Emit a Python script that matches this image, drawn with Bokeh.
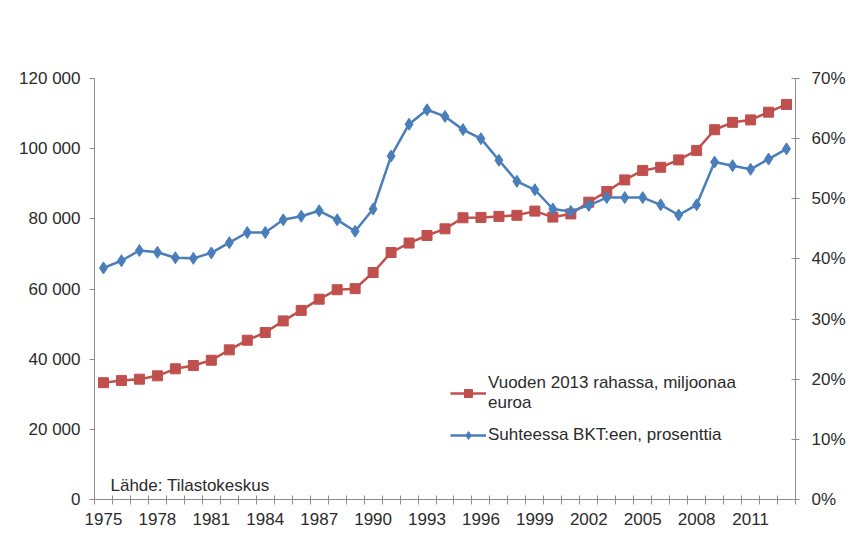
from bokeh.plotting import figure
from bokeh.models import (Range1d, LinearAxis, FixedTicker, CustomJSTickFormatter,
                          PrintfTickFormatter, Legend, LegendItem, Label, ColumnDataSource)
from bokeh.embed import file_html
from bokeh.resources import INLINE

years = list(range(1975, 2014))
euros = [33300, 33900, 34300, 35250, 37250, 38200, 39700, 42650, 45400, 47600,
         50900, 53900, 57100, 59800, 60100, 64700, 70400, 73100, 75250, 77150,
         80300, 80400, 80700, 81000, 82200, 80500, 81400, 84750, 87800, 91100,
         93800, 94700, 96800, 99500, 105400, 107500, 108200, 110400, 112600]
pct = [38.5, 39.7, 41.4, 41.1, 40.2, 40.1, 41.0, 42.7, 44.4, 44.4,
       46.5, 47.1, 48.0, 46.5, 44.6, 48.3, 57.1, 62.4, 64.8, 63.7,
       61.5, 60.0, 56.4, 52.9, 51.5, 48.3, 47.9, 48.9, 50.2, 50.2,
       50.2, 49.0, 47.3, 49.0, 56.1, 55.5, 54.9, 56.6, 58.3]
left_ticks = [0, 20000, 40000, 60000, 80000, 100000, 120000]
right_ticks = [0, 10, 20, 30, 40, 50, 60, 70]
year_labels = list(range(1975, 2014, 3))
name_euros = "Vuoden 2013 rahassa, miljoonaa\neuroa"
name_pct = "Suhteessa BKT:een, prosenttia"
source_note = "Lähde: Tilastokeskus"

FONT = "Liberation Sans"
FS = "17px"
AXIS_COLOR = "#8c8c8c"
TEXT_COLOR = "#2b2b2b"
RED = "#C0504D"
BLUE = "#4A7EBB"

p = figure(width=850, height=554, output_backend="svg", toolbar_location=None,
           x_range=Range1d(years[0] - 0.5, years[-1] + 0.5),
           y_range=Range1d(0, 120000),
           min_border_left=94, min_border_right=55, min_border_top=78, min_border_bottom=55,
           frame_width=701, frame_height=421)
p.outline_line_color = None
p.xgrid.visible = False
p.ygrid.visible = False
p.background_fill_color = "white"
p.border_fill_color = "white"

p.extra_y_ranges = {"pct": Range1d(0, 70)}

# left axis
ya = p.yaxis[0]
ya.ticker = FixedTicker(ticks=left_ticks)
ya.formatter = CustomJSTickFormatter(code=r"return tick.toFixed(0).replace(/\B(?=(\d{3})+(?!\d))/g, ' ');")
ya.axis_line_color = AXIS_COLOR
ya.major_tick_line_color = AXIS_COLOR
ya.major_tick_out = 5
ya.major_tick_in = 0
ya.minor_tick_line_color = None
ya.major_label_standoff = 9
ya.major_label_text_font = FONT
ya.major_label_text_font_size = FS
ya.major_label_text_color = TEXT_COLOR

# right axis
ra = LinearAxis(y_range_name="pct")
ra.ticker = FixedTicker(ticks=right_ticks)
ra.formatter = PrintfTickFormatter(format="%d%%")
ra.axis_line_color = AXIS_COLOR
ra.major_tick_line_color = AXIS_COLOR
ra.major_tick_out = 4
ra.major_tick_in = 4
ra.minor_tick_line_color = None
ra.major_label_standoff = 12
ra.major_label_text_font = FONT
ra.major_label_text_font_size = FS
ra.major_label_text_color = TEXT_COLOR
p.add_layout(ra, "right")

# bottom axis
xa = p.xaxis[0]
xa.ticker = FixedTicker(ticks=year_labels, minor_ticks=[y - 0.5 for y in years] + [years[-1] + 0.5])
xa.formatter = PrintfTickFormatter(format="%d")
xa.axis_line_color = AXIS_COLOR
xa.major_tick_line_color = None
xa.minor_tick_line_color = AXIS_COLOR
xa.minor_tick_in = 4
xa.minor_tick_out = 5
xa.major_label_standoff = 7
xa.major_label_text_font = FONT
xa.major_label_text_font_size = FS
xa.major_label_text_color = TEXT_COLOR

src = ColumnDataSource(dict(year=years, euros=euros, pct=pct))

r_line = p.line("year", "euros", source=src, line_color=RED, line_width=2.5)
r_mark = p.scatter("year", "euros", source=src, marker="square", size=10,
                   fill_color=RED, line_color=RED)
b_line = p.line("year", "pct", source=src, y_range_name="pct", line_color=BLUE, line_width=2.5)
b_mark = p.scatter("year", "pct", source=src, y_range_name="pct", marker="diamond", size=12,
                   fill_color=BLUE, line_color=BLUE)

legend = Legend(items=[LegendItem(label=name_euros, renderers=[r_line, r_mark]),
                       LegendItem(label=name_pct, renderers=[b_line, b_mark])],
                location=(356, 54), orientation="vertical",
                border_line_color=None, background_fill_alpha=0,
                padding=0, margin=0, spacing=12,
                glyph_width=36, label_standoff=2,
                label_text_font=FONT, label_text_font_size=FS,
                label_text_color=TEXT_COLOR, label_text_line_height=1.1)
p.add_layout(legend, "center")

note = Label(x=16, y=5, x_units="screen", y_units="screen", text=source_note,
             text_font=FONT, text_font_size=FS, text_color=TEXT_COLOR)
p.add_layout(note)

open("out.html", "w").write(file_html(p, INLINE))
